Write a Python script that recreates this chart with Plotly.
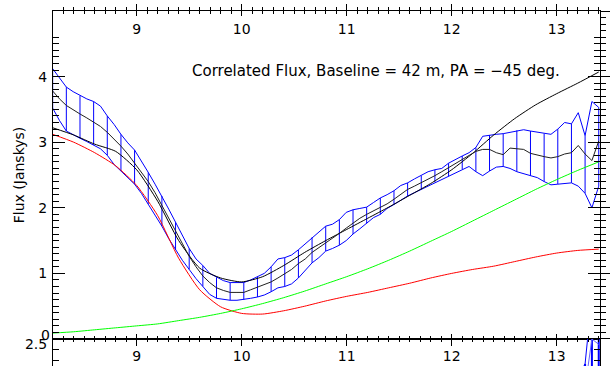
import plotly.graph_objects as go

# ---------------- data ----------------
wl = [8.200, 8.265, 8.330, 8.395, 8.460, 8.525, 8.590, 8.655, 8.720, 8.785,
      8.850, 8.915, 8.980, 9.045, 9.110, 9.175, 9.240, 9.305, 9.370, 9.435,
      9.500, 9.565, 9.630, 9.695, 9.760, 9.825, 9.890, 9.955, 10.020, 10.085,
      10.150, 10.215, 10.280, 10.345, 10.410, 10.475, 10.540, 10.605, 10.670, 10.735,
      10.800, 10.865, 10.930, 10.995, 11.060, 11.125, 11.190, 11.255, 11.320, 11.385,
      11.450, 11.515, 11.580, 11.645, 11.710, 11.775, 11.840, 11.905, 11.970, 12.035,
      12.100, 12.165, 12.230, 12.295, 12.360, 12.425, 12.490, 12.555, 12.620, 12.685,
      12.750, 12.815, 12.880, 12.945, 13.010, 13.075, 13.140, 13.205, 13.270, 13.335,
      13.400]

flux = [3.78, 3.66, 3.56, 3.49, 3.43, 3.37, 3.30, 3.24, 3.15, 3.05,
        2.94, 2.82, 2.68, 2.55, 2.40, 2.23, 2.04, 1.84, 1.64, 1.45,
        1.26, 1.10, 0.96, 0.86, 0.78, 0.74, 0.71, 0.71, 0.71, 0.75,
        0.79, 0.83, 0.87, 0.93, 0.99, 1.06, 1.15, 1.22, 1.32, 1.39,
        1.46, 1.53, 1.61, 1.69, 1.77, 1.84, 1.90, 1.95, 2.00, 2.06,
        2.13, 2.21, 2.28, 2.33, 2.38, 2.44, 2.49, 2.55, 2.61, 2.67,
        2.73, 2.80, 2.86, 2.89, 2.89, 2.84, 2.81, 2.91, 2.90, 2.89,
        2.83, 2.80, 2.78, 2.76, 2.78, 2.82, 2.84, 2.95, 2.82, 2.72,
        3.02]

flux_hi = [4.12, 3.97, 3.84, 3.77, 3.71, 3.66, 3.62, 3.55, 3.40, 3.27,
           3.12, 2.99, 2.88, 2.72, 2.54, 2.36, 2.18, 1.98, 1.78, 1.58,
           1.38, 1.22, 1.12, 1.00, 0.94, 0.89, 0.86, 0.86, 0.86, 0.90,
           0.95, 1.00, 1.10, 1.22, 1.24, 1.28, 1.36, 1.45, 1.55, 1.64,
           1.72, 1.75, 1.82, 1.93, 1.97, 1.99, 2.01, 2.08, 2.15, 2.20,
           2.26, 2.34, 2.38, 2.44, 2.49, 2.55, 2.58, 2.60, 2.68, 2.74,
           2.79, 2.84, 2.92, 3.09, 3.11, 3.12, 3.13, 3.15, 3.18, 3.19,
           3.17, 3.15, 3.13, 3.12, 3.20, 3.30, 3.28, 3.45, 3.10, 3.62,
           3.53]

flux_lo = [3.52, 3.33, 3.17, 3.11, 3.06, 3.01, 2.96, 2.90, 2.80, 2.66,
           2.56, 2.46, 2.36, 2.22, 2.06, 1.90, 1.72, 1.53, 1.36, 1.20,
           1.06, 0.92, 0.80, 0.68, 0.62, 0.60, 0.59, 0.59, 0.60, 0.62,
           0.64, 0.67, 0.72, 0.78, 0.80, 0.84, 0.93, 1.05, 1.16, 1.24,
           1.34, 1.38, 1.43, 1.50, 1.60, 1.68, 1.76, 1.85, 1.90, 1.99,
           2.05, 2.12, 2.18, 2.23, 2.28, 2.33, 2.39, 2.43, 2.48, 2.54,
           2.59, 2.63, 2.55, 2.49, 2.56, 2.62, 2.63, 2.60, 2.55, 2.52,
           2.49, 2.46, 2.40, 2.35, 2.36, 2.37, 2.38, 2.33, 2.22, 2.00,
           2.33]

model_wl = [8.2, 8.4, 8.6, 8.8, 9.0, 9.2, 9.4, 9.6, 9.8, 10.0, 10.2, 10.4, 10.6, 10.8,
            11.0, 11.2, 11.4, 11.6, 11.8, 12.0, 12.2, 12.4, 12.6, 12.8, 13.0, 13.2, 13.4]
model_black = [3.22, 3.11, 2.97, 2.86, 2.58, 2.10, 1.50, 1.08, 0.93, 0.87, 0.95, 1.12, 1.32, 1.50,
               1.67, 1.84, 2.01, 2.19, 2.37, 2.58, 2.83, 3.11, 3.36, 3.57, 3.74, 3.90, 4.07]
model_red = [3.12, 3.00, 2.84, 2.64, 2.34, 1.88, 1.23, 0.75, 0.49, 0.39, 0.38, 0.43, 0.50, 0.58,
             0.65, 0.71, 0.78, 0.85, 0.93, 1.00, 1.06, 1.11, 1.18, 1.25, 1.31, 1.35, 1.37]
model_green = [0.09, 0.11, 0.14, 0.17, 0.20, 0.23, 0.28, 0.33, 0.39, 0.46, 0.54, 0.63, 0.73, 0.84,
               0.95, 1.07, 1.20, 1.34, 1.49, 1.64, 1.80, 1.96, 2.12, 2.28, 2.43, 2.57, 2.70]

# lower panel (only its top edge is visible)
low_wl = [13.140, 13.205, 13.270, 13.335, 13.400]
low_flux = [1.85, 1.95, 2.05, 2.50, 2.45]
low_hi = [2.05, 2.15, 2.27, 2.90, 2.80]
low_lo = [1.65, 1.75, 1.85, 2.20, 2.10]

title_text = "Correlated Flux, Baseline = 42 m, PA = \u221245 deg."
x_major = [9, 10, 11, 12, 13]
y_major = [1, 2, 3, 4, 5]

# ---------------- figure ----------------
BLUE = "#0000ff"
FONT = "DejaVu Sans"
XR = [8.203, 13.412]
YR = [0, 5]
MAIN_BOTTOM = 0.0761

fig = go.Figure()

fig.add_trace(go.Scatter(x=wl, y=flux_hi, mode="lines", line=dict(color=BLUE, width=1)))
fig.add_trace(go.Scatter(x=wl, y=flux_lo, mode="lines", line=dict(color=BLUE, width=1)))
idx = list(range(0, len(wl), 2))
fig.add_trace(go.Scatter(
    x=[wl[i] for i in idx], y=[flux[i] for i in idx], mode="markers",
    marker=dict(size=1, opacity=0),
    error_y=dict(type="data", symmetric=False,
                 array=[flux_hi[i] - flux[i] for i in idx],
                 arrayminus=[flux[i] - flux_lo[i] for i in idx],
                 width=0, thickness=1, color=BLUE)))

fig.add_trace(go.Scatter(x=model_wl, y=model_green, mode="lines", xaxis="x3", yaxis="y",
                         line=dict(color="#00ff00", width=1, shape="spline", smoothing=0.6)))
fig.add_trace(go.Scatter(x=model_wl, y=model_red, mode="lines", xaxis="x", yaxis="y3",
                         line=dict(color="#ff0000", width=1, shape="spline", smoothing=0.6)))
fig.add_trace(go.Scatter(x=model_wl, y=model_black, mode="lines",
                         line=dict(color="#000000", width=1, shape="spline", smoothing=0.6)))
fig.add_trace(go.Scatter(x=wl, y=flux, mode="lines", xaxis="x", yaxis="y4",
                         line=dict(color="#202020", width=1)))

# lower panel
fig.add_trace(go.Scatter(x=low_wl, y=low_hi, mode="lines", xaxis="x2", yaxis="y2",
                         line=dict(color=BLUE, width=1)))
fig.add_trace(go.Scatter(x=low_wl, y=low_lo, mode="lines", xaxis="x2", yaxis="y2",
                         line=dict(color=BLUE, width=1)))
fig.add_trace(go.Scatter(
    x=low_wl, y=low_flux, mode="lines", xaxis="x2", yaxis="y2",
    line=dict(color="#6060ff", width=1),
    error_y=dict(type="data", symmetric=False,
                 array=[h - f for h, f in zip(low_hi, low_flux)],
                 arrayminus=[f - l for f, l in zip(low_flux, low_lo)],
                 width=0, thickness=2, color=BLUE)))

tickfont = dict(family=FONT, size=14, color="black")
common = dict(showgrid=False, zeroline=False, tickcolor="black", tickwidth=1,
              linecolor="black", linewidth=1, automargin=False)
plain = dict(showgrid=False, zeroline=False, tickcolor="black", tickwidth=1, automargin=False)

fig.update_layout(
    width=613, height=366,
    margin=dict(l=53, r=13, t=11, b=0, pad=0, autoexpand=False),
    paper_bgcolor="white", plot_bgcolor="white",
    showlegend=False,
    font=dict(family=FONT, size=14, color="black"),
    xaxis=dict(domain=[0, 1], anchor="y", range=XR, side="bottom",
               tickvals=x_major, ticks="inside", ticklen=5, showline=True, mirror="ticks",
               minor=dict(dtick=0.1, tick0=9, ticks="inside", ticklen=3, tickcolor="black"),
               tickfont=tickfont, ticklabelstandoff=4, **common),
    xaxis3=dict(overlaying="x", anchor="y", side="top", range=XR,
                tickvals=x_major, ticks="outside", ticklen=6,
                minor=dict(dtick=0.1, tick0=9, ticks="outside", ticklen=3, tickcolor="black"),
                ticklabelposition="inside", ticklabelstandoff=10,
                showline=False, tickfont=tickfont, **plain),
    yaxis=dict(domain=[MAIN_BOTTOM, 1], anchor="x", range=YR,
               tickvals=y_major, ticks="inside", ticklen=12, showline=True, mirror="ticks",
               minor=dict(dtick=0.1, tick0=0, ticks="inside", ticklen=6, tickcolor="black"),
               tickfont=tickfont, ticklabelstandoff=2,
               title=dict(text="Flux (Janskys)", font=dict(family=FONT, size=14, color="black"), standoff=10),
               **common),
    yaxis3=dict(overlaying="y", anchor="x", side="right", range=YR,
                tickvals=[0] + y_major, ticks="outside", ticklen=9, showticklabels=False,
                minor=dict(dtick=0.1, tick0=0, ticks="outside", ticklen=5, tickcolor="black"),
                showline=False, **plain),
    yaxis4=dict(overlaying="y", anchor="x", side="left", range=YR,
                tickvals=[0], ticktext=["0"], ticks="", showline=False,
                ticklabelshift=-4, tickfont=tickfont, ticklabelstandoff=2,
                **plain),
    xaxis2=dict(domain=[0, 1], anchor="y2", range=XR, side="top",
                tickvals=x_major, ticks="inside", ticklen=7, showticklabels=False, showline=True,
                minor=dict(dtick=0.1, tick0=9, ticks="inside", ticklen=3, tickcolor="black"),
                **common),
    yaxis2=dict(domain=[0, MAIN_BOTTOM], anchor="x2", range=[2.25, 2.5],
                tickvals=[2.5], ticktext=["2.5"], ticks="inside", ticklen=12, showline=True, mirror="ticks",
                minor=dict(dtick=0.1, tick0=2.5, ticks="inside", ticklen=6, tickcolor="black"),
                ticklabelposition="outside bottom", ticklabelshift=-5,
                tickfont=tickfont, ticklabelstandoff=2,
                **common),
    annotations=[dict(x=9.508, y=4.085, xref="x", yref="y", text=title_text, showarrow=False,
                      xanchor="left", yanchor="middle",
                      font=dict(family=FONT, size=15, color="black"))],
)

fig.write_html("out.html")
